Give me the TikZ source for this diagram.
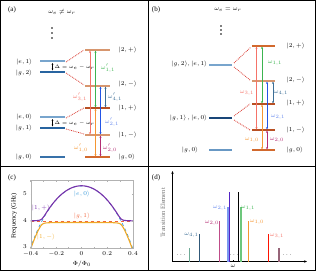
\documentclass[tikz,border=0pt]{standalone}
\usepackage{fontspec}
\setmainfont{Liberation Serif}
\usetikzlibrary{arrows.meta}
\definecolor{lvlight}{RGB}{120,165,205}
\definecolor{lvdark}{RGB}{40,100,160}
\definecolor{lvnavy}{RGB}{25,70,120}
\definecolor{tan}{RGB}{215,150,110}
\definecolor{brown}{RGB}{185,80,35}
\definecolor{org}{RGB}{210,105,45}
\definecolor{cred}{RGB}{245,115,105}
\definecolor{cgreen}{RGB}{60,180,80}
\definecolor{cblue}{RGB}{35,85,230}
\definecolor{csteel}{RGB}{60,110,150}
\definecolor{corange}{RGB}{245,150,50}
\definecolor{cmag}{RGB}{180,45,115}
\definecolor{dashred}{RGB}{215,50,40}
\definecolor{cpurple}{RGB}{120,50,170}
\definecolor{cyell}{RGB}{240,170,40}
\definecolor{cqb}{RGB}{50,150,215}
\definecolor{cres}{RGB}{240,100,60}
\definecolor{teal2}{RGB}{110,170,150}
\definecolor{mauve}{RGB}{150,100,120}
\begin{document}
\begin{tikzpicture}[x=1pt,y=-1pt,
  ket/.style={font=\fontsize{6.5}{7}\selectfont, inner sep=0.5pt},
  wl/.style={font=\fontsize{5.6}{6.5}\selectfont, inner sep=0.3pt},
  plab/.style={font=\fontsize{7}{8}\selectfont, inner sep=0pt},
  lvl/.style={line width=1.4pt},
  trans/.style={<->,>={Stealth[length=2.4pt,width=2pt]},line width=0.9pt},
  conn/.style={dashred,densely dotted,line width=0.8pt},
  bar/.style={line width=1pt},
  declare function={fq(\x)=5.3*sqrt(abs(cos(180*\x)));
    up(\x)=(fq(\x)+4)/2+sqrt(((fq(\x)-4)/2)^2+0.0064);
    lo(\x)=(fq(\x)+4)/2-sqrt(((fq(\x)-4)/2)^2+0.0064)-0.05;}]
\useasboundingbox (0,0) rectangle (316,271);
% frame
\draw[line width=0.8pt] (0.4,0.4) rectangle (315.6,270.6);
\draw[line width=0.8pt] (148,0) -- (148,271);
\draw[line width=0.8pt] (0,166) -- (316,166);

% ================= panel (a)
\node[plab] (la) at (12,10) {(a)};
\node[ket] (ta) at (62,12) {$\omega_e\neq\omega_r$};
\foreach \yy in {28,33,38} \fill (52,\yy) circle (0.9pt);
% left levels
\coordinate (ae1a) at (40,61);  \coordinate (ae1b) at (65,61);
\coordinate (ag2a) at (40,72);  \coordinate (ag2b) at (65,72);
\coordinate (ae0a) at (40,117); \coordinate (ae0b) at (65,117);
\coordinate (ag1a) at (40,128); \coordinate (ag1b) at (65,128);
\coordinate (ag0a) at (40,157); \coordinate (ag0b) at (65,157);
\draw[lvl,lvlight] (ae1a) -- (ae1b);
\draw[lvl,lvdark] (ag2a) -- (ag2b);
\draw[lvl,lvlight] (ae0a) -- (ae0b);
\draw[lvl,lvdark] (ag1a) -- (ag1b);
\draw[lvl,lvdark!80!lvlight] (ag0a) -- (ag0b);
\node[ket,anchor=east] (kae1) at (33,62) {$|e,1\rangle$};
\node[ket,anchor=east] (kag2) at (33,73) {$|g,2\rangle$};
\node[ket,anchor=east] (kae0) at (33,117) {$|e,0\rangle$};
\node[ket,anchor=east] (kag1) at (33,128) {$|g,1\rangle$};
\node[ket,anchor=east] (kag0) at (33,157) {$|g,0\rangle$};
\coordinate (d1t) at (52.5,63); \coordinate (d1b) at (52.5,70.5);
\coordinate (d2t) at (52.5,119); \coordinate (d2b) at (52.5,126.5);
\draw[<->,>={Stealth[length=1.8pt,width=1.6pt]},line width=0.5pt] (d1t) -- (d1b);
\draw[<->,>={Stealth[length=1.8pt,width=1.6pt]},line width=0.5pt] (d2t) -- (d2b);
\node[wl,anchor=west,font=\fontsize{5}{6}\selectfont] (dl1) at (54,67) {$\Delta=\omega_e-\omega_r$};
\node[wl,anchor=west,font=\fontsize{5}{6}\selectfont] (dl2) at (54,123) {$\Delta=\omega_e-\omega_r$};
% right levels
\coordinate (a2pa) at (85,50);  \coordinate (a2pb) at (110,50);
\coordinate (a2ma) at (85,86);  \coordinate (a2mb) at (110,86);
\coordinate (a1pa) at (85,108); \coordinate (a1pb) at (110,108);
\coordinate (a1ma) at (85,135); \coordinate (a1mb) at (110,135);
\coordinate (arga) at (85,157); \coordinate (argb) at (110,157);
\draw[lvl,tan] (a2pa) -- (a2pb);
\draw[lvl,tan] (a2ma) -- (a2mb);
\draw[lvl,brown] (a1pa) -- (a1pb);
\draw[lvl,tan] (a1ma) -- (a1mb);
\draw[lvl,org] (arga) -- (argb);
\node[ket,anchor=west] (ka2p) at (118,50) {$|2,+\rangle$};
\node[ket,anchor=west] (ka2m) at (118,84) {$|2,-\rangle$};
\node[ket,anchor=west] (ka1p) at (118,108) {$|1,+\rangle$};
\node[ket,anchor=west] (ka1m) at (118,135) {$|1,-\rangle$};
\node[ket,anchor=west] (kag0r) at (118,157) {$|g,0\rangle$};
% connectors
\draw[conn] (66,62) -- (84,50);
\draw[conn] (66,73) -- (84,85);
\draw[conn] (66,118) -- (84,108);
\draw[conn] (66,129) -- (84,134);
% transitions
\draw[trans,cred] (90,134.5) -- (90,50.5);
\draw[trans,cgreen] (95.5,107.5) -- (95.5,50.5);
\draw[trans,cblue] (100.5,134.5) -- (100.5,86.5);
\draw[trans,csteel] (105.5,107.5) -- (105.5,86.5);
\draw[trans,corange] (95.5,156.5) -- (95.5,108.5);
\draw[trans,cmag] (100.5,156.5) -- (100.5,135.5);
\node[wl,cgreen] (wa11) at (108,68) {$\omega'_{1,1}$};
\node[wl,cred] (wa31) at (80,97) {$\omega'_{3,1}$};
\node[wl,csteel] (wa41) at (115,97) {$\omega'_{4,1}$};
\node[wl,cblue!70!white] (wa21) at (112,122) {$\omega'_{2,1}$};
\node[wl,corange] (wa10) at (81,148) {$\omega'_{1,0}$};
\node[wl,cmag] (wa20) at (110,148) {$\omega'_{2,0}$};

% ================= panel (b)
\node[plab] (lb) at (156,10) {(b)};
\node[ket] (tb) at (228,10) {$\omega_e=\omega_r$};
\foreach \yy in {26,30,34} \fill (221,\yy) circle (0.9pt);
\coordinate (bl2a) at (209,65);  \coordinate (bl2b) at (232,65);
\coordinate (bl1a) at (209,118); \coordinate (bl1b) at (232,118);
\coordinate (bl0a) at (209,150); \coordinate (bl0b) at (232,150);
\draw[lvl,lvlight] (bl2a) -- (bl2b);
\draw[lvl,lvnavy] (bl1a) -- (bl1b);
\draw[lvl,lvlight!80!lvdark] (bl0a) -- (bl0b);
\node[ket,anchor=east] (kb2) at (208,64) {$|g,2\rangle,|e,1\rangle$};
\node[ket,anchor=east] (kb1) at (208,118) {$|g,1\rangle\,,|e,0\rangle$};
\node[ket,anchor=east] (kb0) at (199,150) {$|g,0\rangle$};
\coordinate (b2pa) at (252,46);  \coordinate (b2pb) at (275,46);
\coordinate (b2ma) at (252,81);  \coordinate (b2mb) at (275,81);
\coordinate (b1pa) at (252,104); \coordinate (b1pb) at (275,104);
\coordinate (b1ma) at (252,130); \coordinate (b1mb) at (275,130);
\coordinate (brga) at (252,150); \coordinate (brgb) at (275,150);
\draw[lvl,org] (b2pa) -- (b2pb);
\draw[lvl,tan] (b2ma) -- (b2mb);
\draw[lvl,brown] (b1pa) -- (b1pb);
\draw[lvl,brown] (b1ma) -- (b1mb);
\draw[lvl,org] (brga) -- (brgb);
\node[ket,anchor=west] (kb2p) at (286,46) {$|2,+\rangle$};
\node[ket,anchor=west] (kb2m) at (286,80) {$|2,-\rangle$};
\node[ket,anchor=west] (kb1p) at (286,103) {$|1,+\rangle$};
\node[ket,anchor=west] (kb1m) at (286,130) {$|1,-\rangle$};
\node[ket,anchor=west] (kbg0) at (286,150) {$|g,0\rangle$};
\draw[conn] (234,63) -- (251,47);
\draw[conn] (234,67) -- (250,80);
\draw[conn] (234,116) -- (250,104);
\draw[conn] (234,120) -- (250,130);
\draw[trans,cred] (256.5,129.5) -- (256.5,46.5);
\draw[trans,cgreen] (262,103.5) -- (262,46.5);
\draw[trans,cblue] (267,129.5) -- (267,81.5);
\draw[trans,csteel] (273,103.5) -- (273,81.5);
\draw[trans,corange] (262,149.5) -- (262,104.5);
\draw[trans,cmag] (267,149.5) -- (267,130.5);
\node[wl,cgreen] (wb11) at (275,63) {$\omega_{1,1}$};
\node[wl,cred] (wb31) at (247,93) {$\omega_{3,1}$};
\node[wl,csteel] (wb41) at (281,93) {$\omega_{4,1}$};
\node[wl,cblue!70!white] (wb21) at (278,117) {$\omega_{2,1}$};
\node[wl,corange] (wb10) at (252,140) {$\omega_{1,0}$};
\node[wl,cmag] (wb20) at (277,140) {$\omega_{2,0}$};

% ================= panel (c)
\node[plab] (lc) at (12,178) {(c)};
\begin{scope}
\clip (30.7,180) rectangle (133,248);
\draw[cqb,dashed,line width=0.7pt] plot[domain=-0.4:0.4,samples=121] ({81.5+128.75*\x},{221-27*(fq(\x)-4)});
\draw[cres,dashed,line width=0.7pt] (30.7,221) -- (133,221);
\draw[cpurple,line width=1.1pt] plot[domain=-0.4:0.4,samples=161] ({81.5+128.75*\x},{221-27*(up(\x)-4)});
\draw[cyell,line width=1.1pt] plot[domain=-0.4:0.4,samples=161] ({81.5+128.75*\x},{221-27*(lo(\x)-4)});
\end{scope}
\draw[gray!60,line width=0.4pt] (30.7,180) rectangle (133,248);
\foreach \t in {-0.4,-0.3,...,0.41} {
  \draw[gray!60,line width=0.3pt] ({81.5+128.75*\t},248) -- ++(0,-1.5);
  \draw[gray!60,line width=0.3pt] ({81.5+128.75*\t},180) -- ++(0,1.5);}
\foreach \f in {3,4,5} {
  \draw[gray!60,line width=0.3pt] (30.7,{221-27*(\f-4)}) -- ++(1.5,0);
  \draw[gray!60,line width=0.3pt] (133,{221-27*(\f-4)}) -- ++(-1.5,0);}
\node[ket] (xt1) at (30.7,254) {$-0.4$};
\node[ket] (xt2) at (56.3,254) {$-0.2$};
\node[ket] (xt3) at (81.5,254) {$0$};
\node[ket] (xt4) at (107.2,254) {$0.2$};
\node[ket] (xt5) at (133,254) {$0.4$};
\node[ket] (yt5) at (25,194) {$5$};
\node[ket] (yt4) at (25,221) {$4$};
\node[ket] (yt3) at (25,247) {$3$};
\node[ket] (xlab) at (82,264) {$\Phi/\Phi_0$};
\node[ket,rotate=90] (ylab) at (14,216) {Frequency (GHz)};
\node[ket,cqb] (ce0) at (82,194) {$|e,0\rangle$};
\node[ket,cpurple] (c1p) at (41,208) {$|1,+\rangle$};
\node[ket,cres] (cg1) at (82,216) {$|g,1\rangle$};
\node[ket,cyell] (c1m) at (46,237) {$|1,-\rangle$};

% ================= panel (d)
\node[plab] (ld) at (156,178) {(d)};
\coordinate (org0) at (172.5,261.5);
\coordinate (yend) at (172.5,171);
\coordinate (xend) at (307,261.5);
\draw[-{Stealth[length=3pt,width=2.4pt]},line width=0.6pt] (org0) -- (yend);
\draw[-{Stealth[length=3pt,width=2.4pt]},line width=0.6pt] (org0) -- (xend);
\draw[line width=0.6pt] (233,261.5) -- (233,259.5);
\node[ket] (om) at (233,266) {$\omega$};
\node[ket,rotate=90,gray!90!black] (dyl) at (163,213) {Transition Element};
\draw[bar,teal2] (189,261.5) -- (189,248);
\draw[bar,csteel!80!black] (199.5,261.5) -- (199.5,234);
\draw[bar,cmag!85!white] (219.5,261.5) -- (219.5,220.5);
\draw[line width=2pt,cblue!60!white] (228,261.5) -- (228,207);
\draw[line width=0.7pt,cpurple!70!blue] (229.8,261.5) -- (229.8,192);
\draw[line width=0.7pt,black] (238,261.5) -- (238,192);
\draw[line width=2pt,cgreen!75!white] (240.5,261.5) -- (240.5,207);
\draw[bar,corange] (248.5,261.5) -- (248.5,221);
\draw[bar,red!85!orange] (268,261.5) -- (268,234);
\draw[line width=1.2pt,mauve] (279,261.5) -- (279,248);
\node[ket] (dd1) at (181,255) {$\cdots$};
\node[ket] (dd2) at (234,255) {$\cdots$};
\node[ket] (dd3) at (287,255) {$\cdots$};
\node[wl,csteel] (dw41) at (191.5,235) {$\omega_{4,1}$};
\node[wl,cmag] (dw20) at (212,223) {$\omega_{2,0}$};
\node[wl,cblue!70!white] (dw21) at (220,208) {$\omega_{2,1}$};
\node[wl,cgreen] (dw11) at (248,208) {$\omega_{1,1}$};
\node[wl,corange] (dw10) at (257,222) {$\omega_{1,0}$};
\node[wl,cred] (dw31) at (277,236) {$\omega_{3,1}$};
\end{tikzpicture}
\end{document}
